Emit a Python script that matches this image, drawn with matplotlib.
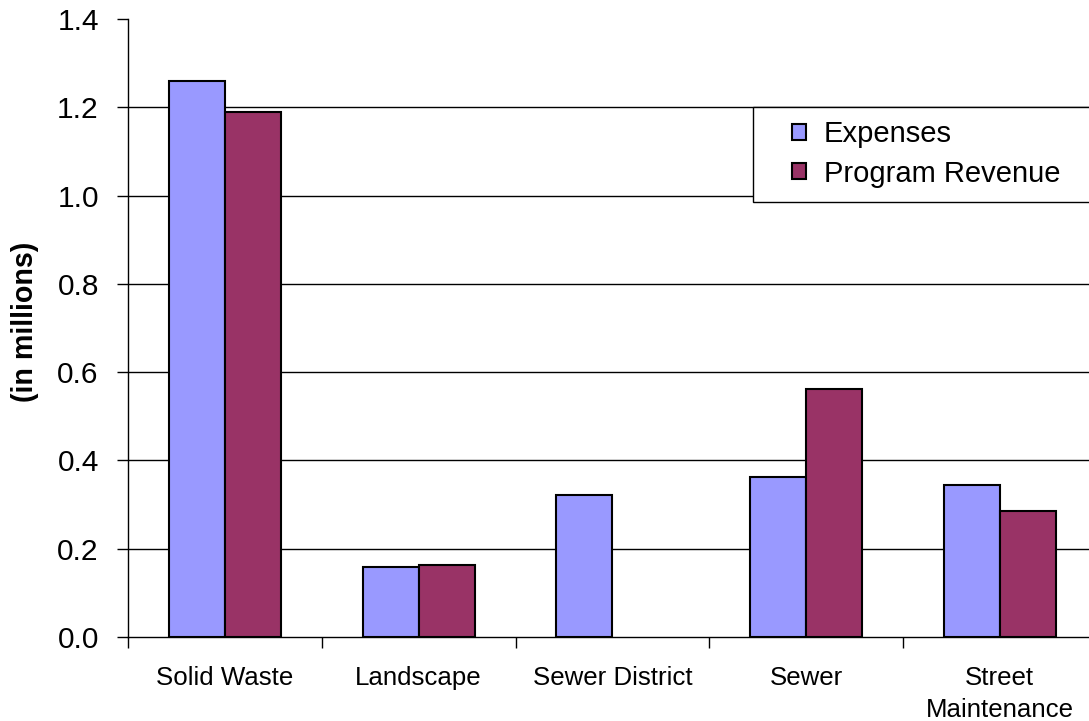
import matplotlib
matplotlib.use("Agg")
import matplotlib.pyplot as plt
from matplotlib.patches import Rectangle
import numpy as np

categories = ["Solid Waste", "Landscape", "Sewer District", "Sewer", "Street\nMaintenance"]
expenses = [1.26, 0.159, 0.322, 0.362, 0.344]
program_revenue = [1.19, 0.163, 0.0, 0.562, 0.285]
yticks = [0.0, 0.2, 0.4, 0.6, 0.8, 1.0, 1.2, 1.4]

plt.rcParams['font.family'] = ['Liberation Sans', 'DejaVu Sans']

W, H = 1089, 721
fig = plt.figure(figsize=(W / 100, H / 100), dpi=100)
ax = fig.add_axes([128 / W, (H - 637) / H, (W - 128) / W, 618 / H])

x = np.arange(len(categories))
bw = 0.289
ax.bar(x - bw / 2, expenses, bw, color="#9999FF", edgecolor="black", linewidth=1.5,
       label="Expenses", zorder=3)
rev_mask = [v > 0 for v in program_revenue]
ax.bar((x + bw / 2)[rev_mask], np.array(program_revenue)[rev_mask], bw, color="#993366",
       edgecolor="black", linewidth=1.5, label="Program Revenue", zorder=3)

ax.set_ylim(0, 1.4)
ax.set_yticks(yticks)
ax.set_yticklabels([f"{v:.1f}" for v in yticks], fontsize=21.5)
ax.tick_params(axis='y', direction='out', length=8, width=1, pad=13)

span = (W - 128) / 193.75
ax.set_xlim(-0.5, -0.5 + span)
ax.set_xticks(x)
ax.set_xticklabels(categories, fontsize=18.6, linespacing=1.4)
ax.tick_params(axis='x', which='major', length=0, pad=21)
ax.set_xticks(np.arange(len(categories)) - 0.5, minor=True)
ax.tick_params(axis='x', which='minor', direction='out', length=8, width=1)

ax.grid(axis='y', color='black', linewidth=1, zorder=0)
ax.set_axisbelow(True)
gl = ax.get_ygridlines()
gl[-1].set_visible(False)
gl[0].set_visible(False)

for s in ['top', 'right']:
    ax.spines[s].set_visible(False)
ax.spines['left'].set_linewidth(1)
ax.spines['bottom'].set_linewidth(1)

fig.text(25 / W, 1 - 322 / H, "(in millions)", rotation=90, fontsize=20.6,
         fontweight='bold', ha='center', va='center')

# legend frame (extends past right edge as in the reference)
frame = Rectangle((753 / W, 1 - 202 / H), 360 / W, 95 / H, transform=fig.transFigure,
                  facecolor='white', edgecolor='black', linewidth=1, zorder=4)
fig.patches.append(frame)

leg = fig.legend(loc='center left', bbox_to_anchor=(792 / W, 1 - 154 / H),
                 fontsize=21, frameon=False,
                 handlelength=0.47, handleheight=0.47, handletextpad=0.62,
                 borderpad=0, labelspacing=0.38, borderaxespad=0)
leg.set_zorder(5)

fig.savefig("out.png", dpi=100)
